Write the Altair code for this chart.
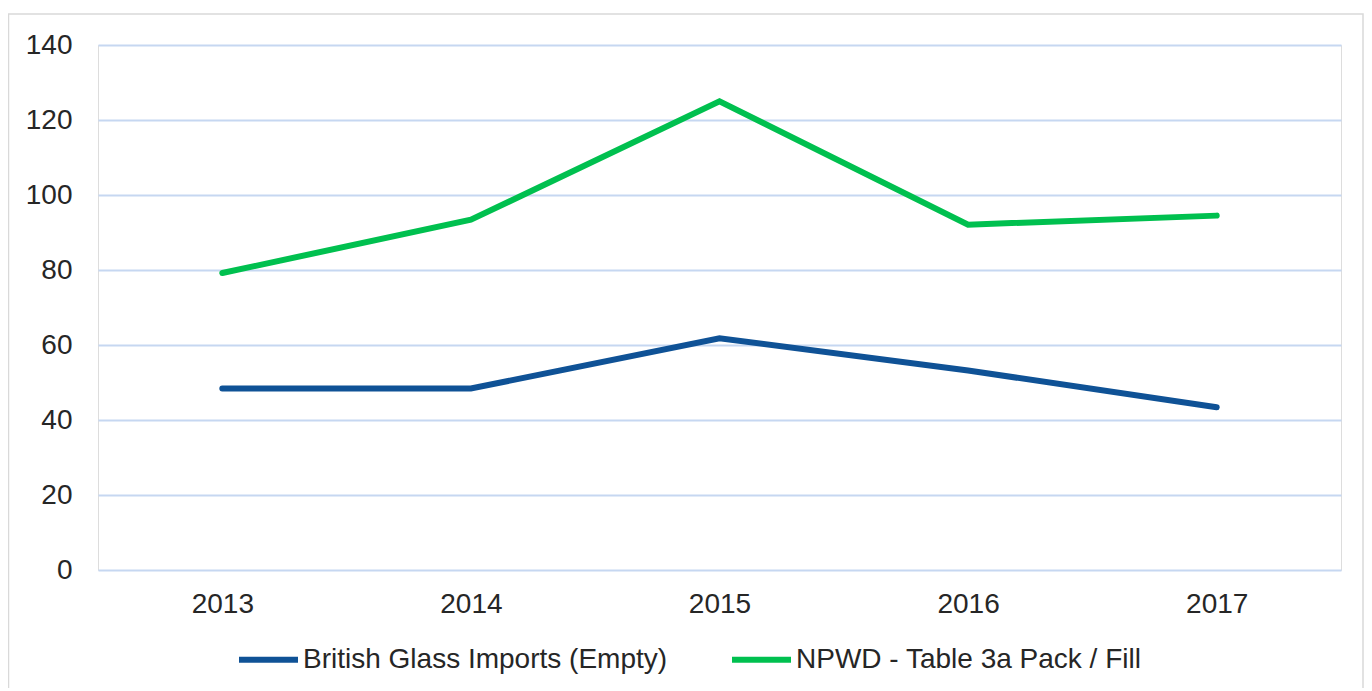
import altair as alt
import pandas as pd

years = ["2013", "2014", "2015", "2016", "2017"]
series_names = ["British Glass Imports (Empty)", "NPWD - Table 3a Pack / Fill"]
british_glass = [48.4, 48.4, 61.8, 53.2, 43.4]
npwd = [79.2, 93.4, 125.0, 92.1, 94.5]
colors = ["#0f5296", "#00c04f"]
y_ticks = [0, 20, 40, 60, 80, 100, 120, 140]

rows = []
for name, vals in zip(series_names, [british_glass, npwd]):
    for yr, v in zip(years, vals):
        rows.append({"Year": yr, "Series": name, "Value": v})
df = pd.DataFrame(rows)

FONT = "Liberation Sans"
W, H = 1243, 525

lines = alt.Chart(df).mark_line(strokeWidth=6, strokeCap="round", strokeJoin="miter").encode(
    x=alt.X("Year:O", sort=years, title=None,
            axis=alt.Axis(labelAngle=0, ticks=False, domain=False, grid=False,
                          labelPadding=20, labelFontSize=28, labelColor="#262626",
                          labelFont=FONT)),
    y=alt.Y("Value:Q", title=None, scale=alt.Scale(domain=[0, 140], nice=False),
            axis=alt.Axis(values=y_ticks, ticks=False, domain=False, grid=True,
                          gridColor="#c6d7f1", gridWidth=2, labelPadding=26,
                          labelFontSize=28, labelColor="#262626", labelFont=FONT)),
    color=alt.Color("Series:N", sort=series_names,
                    scale=alt.Scale(domain=series_names, range=colors),
                    legend=alt.Legend(title=None, orient="none", direction="horizontal",
                                      legendX=138, legendY=582, symbolType="stroke",
                                      symbolSize=3481, symbolStrokeWidth=6,
                                      labelFontSize=28, labelFont=FONT, labelColor="#262626",
                                      labelOffset=2, columnPadding=52, padding=0,
                                      labelLimit=600)),
)

frame = alt.Chart(pd.DataFrame({"a": [0]})).mark_rect(
    fill="transparent", stroke="#d9d9d9", strokeWidth=1.5
).encode(
    x=alt.value(-89.5), x2=alt.value(1265), y=alt.value(-31), y2=alt.value(720)
)

chart = alt.layer(frame, lines).properties(
    width=W, height=H,
    autosize=alt.AutoSizeParams(type="none"),
    padding={"left": 90, "top": 37, "right": 23, "bottom": 118},
).configure_view(stroke=None).configure(background="white")

chart.save("out.html", embed_options={"renderer": "svg", "actions": False})
